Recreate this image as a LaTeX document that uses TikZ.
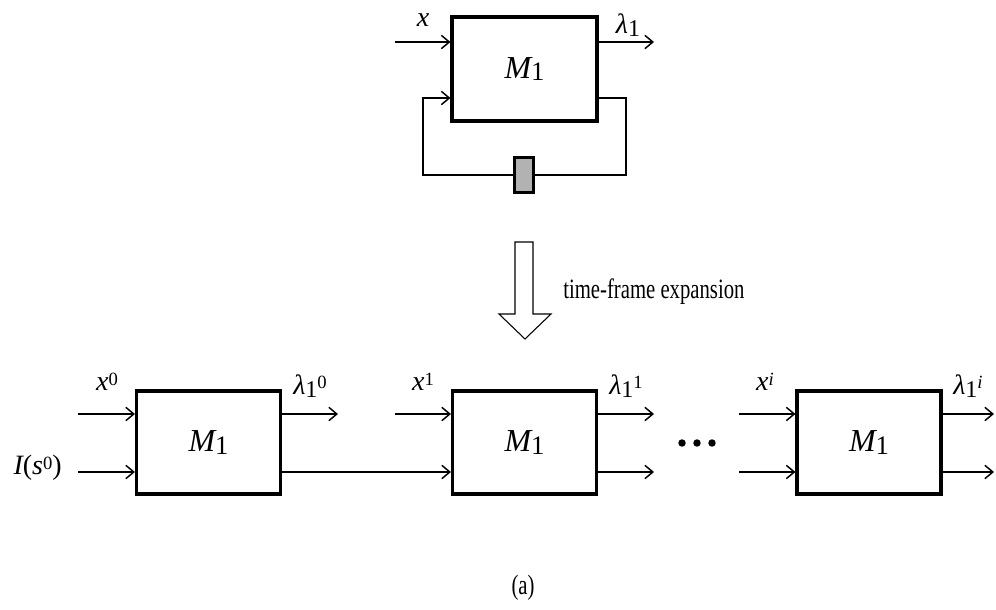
\documentclass[tikz,border=0pt]{standalone}
\usepackage{fontspec}
\setmainfont{Liberation Serif}
\usetikzlibrary{arrows.meta}
\newcommand\Mone{{\fontsize{24}{26}\selectfont\itshape M}\raisebox{-0.45ex}{\fontsize{20}{22}\selectfont 1}}
\newcommand\lamlbl[1]{{\fontsize{21}{22}\selectfont\itshape λ}\raisebox{-0.4ex}{\fontsize{18}{19}\selectfont 1}\raisebox{1.0ex}{\fontsize{14}{15}\selectfont #1}}
\newcommand\xlbl[1]{{\fontsize{21}{22}\selectfont\itshape x}\raisebox{0.85ex}{\fontsize{14}{15}\selectfont #1}}
\begin{document}
\begin{tikzpicture}[x=0.75pt,y=-0.75pt,
  blk/.style={draw,line width=2.3pt,minimum width=108pt,minimum height=77.25pt,inner sep=0pt},
  arr/.style={line width=1.1pt,-{Straight Barb[length=6pt,width=10pt]}},
  ln/.style={line width=1.1pt},
  lbl/.style={inner sep=0pt}]
\useasboundingbox (0,0) rectangle (996,610);
% top machine
\node[blk,minimum width=108.75pt,minimum height=78pt] (T) at (524.5,69) {\Mone};
\node[draw,line width=2pt,fill=black!30,minimum width=14pt,minimum height=26pt,inner sep=0pt] (D) at (524,175) {};
\coordinate (tin) at (395,42);
\coordinate (tout) at (654,42);
\coordinate (fbR) at (626,98);
\coordinate (fbL) at (423,98);
\draw[arr] (tin) -- (tin -| T.west);
\draw[arr] (tout -| T.east) -- (tout);
\draw[ln] (fbR -| T.east) -- (fbR) |- (D.east);
\draw[arr] (D.west) -| (fbL) -- (fbL -| T.west);
\node[lbl] (tx) at (423,20) {\xlbl{}};
\node[lbl] (tl) at (628,25) {\lamlbl{}};
% expansion arrow
\draw[line width=0.8pt] (515,242) -- (533,242) -- (533,314) -- (551,314) -- (525,339) -- (499,314) -- (515,314) -- cycle;
\node[lbl,anchor=west] (exp) at (563,292) {\scalebox{0.74}[1]{\fontsize{21}{24}\selectfont time-frame expansion}};
% lower machines
\node[blk] (B0) at (208.5,442.5) {\Mone};
\node[blk] (B1) at (524.5,442.5) {\Mone};
\node[blk] (Bi) at (869,442.5) {\Mone};
\coordinate (a0) at (78,414);
\coordinate (b0) at (78,472);
\coordinate (a0o) at (338,414);
\coordinate (a1) at (395,414);
\coordinate (a1o) at (654,414);
\coordinate (b1o) at (654,472);
\coordinate (ai) at (739,414);
\coordinate (bi) at (739,472);
\coordinate (aio) at (994,414);
\coordinate (bio) at (994,472);
\draw[arr] (a0) -- (a0 -| B0.west);
\draw[arr] (b0) -- (b0 -| B0.west);
\draw[arr] (a0o -| B0.east) -- (a0o);
\draw[arr] (b0 -| B0.east) -- (b0 -| B1.west);
\draw[arr] (a1) -- (a1 -| B1.west);
\draw[arr] (a1o -| B1.east) -- (a1o);
\draw[arr] (b1o -| B1.east) -- (b1o);
\draw[arr] (ai) -- (ai -| Bi.west);
\draw[arr] (bi) -- (bi -| Bi.west);
\draw[arr] (aio -| Bi.east) -- (aio);
\draw[arr] (bio -| Bi.east) -- (bio);
\node[lbl] (lx0) at (107,382) {\xlbl{0}};
\node[lbl] (ll0) at (310,386) {\lamlbl{0}};
\node[lbl] (lx1) at (423,382) {\xlbl{1}};
\node[lbl] (ll1) at (626,386) {\lamlbl{1}};
\node[lbl] (lxi) at (765,382) {\xlbl{\itshape i}};
\node[lbl] (lli) at (968,386) {\lamlbl{\itshape i}};
\node[lbl,anchor=east] (lis) at (62,468) {{\fontsize{21}{22}\selectfont\itshape I}{\fontsize{21}{22}\selectfont (}{\fontsize{21}{22}\selectfont\itshape s}\raisebox{0.85ex}{\fontsize{14}{15}\selectfont 0}{\fontsize{21}{22}\selectfont )}};
\fill (682,443) circle[radius=2.8pt] coordinate (d1);
\fill (697,443) circle[radius=2.8pt] coordinate (d2);
\fill (712,443) circle[radius=2.8pt] coordinate (d3);
\node[lbl] (cap) at (523,588) {\scalebox{0.74}[1]{\fontsize{21}{24}\selectfont (a)}};
\end{tikzpicture}
\end{document}
